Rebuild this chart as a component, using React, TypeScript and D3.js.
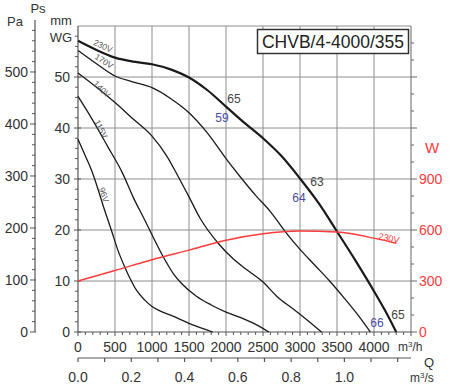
import React from 'react';
import * as d3 from 'd3';

// fan curves: [airflow m3/h, static pressure mmWG]
const CURVE_230V = [[0, 57.1], [250, 55.3], [500, 53.8], [750, 53.0], [1000, 52.5], [1250, 51.5], [1500, 49.9], [1750, 47.4], [2000, 44.2], [2250, 41.0], [2500, 38.0], [2750, 34.5], [3000, 30.1], [3250, 25.3], [3500, 19.7], [3750, 14.0], [4000, 8.0], [4150, 4.2], [4300, 0]];
const CURVE_170V = [[0, 55.2], [250, 52.6], [500, 50.2], [750, 49.0], [1000, 47.9], [1250, 45.8], [1500, 43.0], [1750, 39.0], [2000, 34.0], [2200, 30.3], [2400, 26.8], [2600, 23.6], [2800, 19.7], [3000, 16.2], [3200, 13.1], [3400, 10.0], [3600, 6.6], [3800, 3.0], [3950, 0]];
const CURVE_140V = [[0, 50.8], [250, 48.0], [500, 45.0], [750, 41.7], [1000, 38.4], [1200, 34.5], [1350, 30.6], [1500, 26.5], [1650, 22.3], [1900, 17.3], [2100, 14.3], [2300, 12.0], [2500, 9.8], [2700, 6.8], [2900, 4.6], [3100, 2.3], [3290, 0]];
const CURVE_115V = [[0, 46.2], [200, 41.5], [400, 36.4], [600, 31.2], [750, 26.3], [900, 22.0], [1050, 17.6], [1150, 14.8], [1300, 11.2], [1400, 9.5], [1600, 7.0], [1800, 5.3], [2000, 3.9], [2200, 2.8], [2400, 1.5], [2580, 0]];
const CURVE_96V = [[0, 37.8], [100, 34.5], [180, 31.8], [275, 27.8], [350, 24.3], [450, 20.0], [540, 16.0], [630, 12.8], [700, 10.6], [790, 8.2], [900, 6.3], [1000, 5.0], [1100, 4.2], [1300, 3.0], [1500, 1.7], [1700, 0.6], [1820, 0]];

// absorbed power at 230V: [airflow m3/h, W]
const POWER_230V = [[0, 300], [500, 362], [1000, 425], [1500, 482], [2000, 540], [2500, 578], [3000, 594], [3500, 588], [4000, 552], [4300, 522]];

const VOLTAGE_LABELS = [
  { text: '230V', q: 338, p: 56.1, rot: 25 },
  { text: '170V', q: 351, p: 53.1, rot: 33 },
  { text: '140V', q: 324, p: 47.6, rot: 45 },
  { text: '115V', q: 311, p: 39.8, rot: 63 },
  { text: '96V', q: 351, p: 26.9, rot: 72 },
];

// sound levels printed along the curves
const SOUND_LABELS = [
  { text: '65', q: 2108, p: 45.7, blue: false },
  { text: '59', q: 1946, p: 42.0, blue: true },
  { text: '63', q: 3230, p: 29.4, blue: false },
  { text: '64', q: 2986, p: 26.3, blue: true },
  { text: '66', q: 4041, p: 1.8, blue: true },
  { text: '65', q: 4324, p: 3.3, blue: false },
];

const FLOW_TICKS = [0, 500, 1000, 1500, 2000, 2500, 3000, 3500, 4000];
const FLOW_S_TICKS = [0.0, 0.2, 0.4, 0.6, 0.8, 1.0];
const MM_TICKS = [0, 10, 20, 30, 40, 50];
const PA_TICKS = [0, 100, 200, 300, 400, 500];
const W_TICKS = [0, 300, 600, 900];

const FONT = "Arial, 'Liberation Sans', Helvetica, sans-serif";
const RED = '#ff3b3b';
const GRID = '#8e8e8e';

export default function App() {
  const x = d3.scaleLinear().domain([0, 4500]).range([78, 411]);
  const y = d3.scaleLinear().domain([0, 60]).range([332, 26]);
  const yPa = (pa: number) => y(pa / 9.80665);
  const yW = d3.scaleLinear().domain([0, 1800]).range([332, 26]);
  const xS = (q: number) => x(q * 3600);

  const line = d3.line<number[]>().x(d => x(d[0])).y(d => y(d[1])).curve(d3.curveMonotoneX);
  const powerLine = d3.line<number[]>().x(d => x(d[0])).y(d => yW(d[1])).curve(d3.curveMonotoneX);

  const curves = [
    { data: CURVE_96V, w: 1.3 },
    { data: CURVE_115V, w: 1.3 },
    { data: CURVE_140V, w: 1.3 },
    { data: CURVE_170V, w: 1.3 },
    { data: CURVE_230V, w: 2.2 },
  ];

  const x0 = x(0), x1 = x(4500), yTop = y(60), yBot = y(0);
  const yS = 358;

  return (
    <svg width={450} height={385} style={{ position: 'absolute', left: 0, top: 0, background: '#fff' }} fontFamily={FONT}>
      {/* grid */}
      {d3.range(500, 4500, 500).map(v => (
        <line key={'gx' + v} x1={x(v)} x2={x(v)} y1={yTop} y2={yBot} stroke={GRID} strokeWidth={1} />
      ))}
      {d3.range(10, 60, 10).map(v => (
        <line key={'gy' + v} x1={x0} x2={x1} y1={y(v)} y2={y(v)} stroke={GRID} strokeWidth={1} />
      ))}
      <line x1={x0} x2={x1} y1={yTop} y2={yTop} stroke={GRID} strokeWidth={1} />
      <line x1={x1} x2={x1} y1={yTop} y2={yBot} stroke="#666" strokeWidth={1} />
      <line x1={x0} x2={x0} y1={yTop} y2={yBot} stroke="#555" strokeWidth={1.2} />
      <line x1={x0} x2={x1} y1={yBot} y2={yBot} stroke="#555" strokeWidth={1.2} />

      {/* mm axis ticks */}
      {d3.range(0, 60, 2).map(v => (
        <line key={'mt' + v} x1={v % 10 === 0 ? x0 - 4 : x0 - 3} x2={v % 10 === 0 ? x0 + 3 : x0} y1={y(v)} y2={y(v)} stroke="#555" />
      ))}
      {MM_TICKS.map(v => (
        <text key={'ml' + v} x={70} y={y(v)} dy="0.35em" textAnchor="end" fontSize={14} fill="#333">{v}</text>
      ))}

      {/* Pa axis */}
      <line x1={35} x2={35} y1={yPa(0)} y2={yPa(600)} stroke="#555" strokeWidth={1.2} />
      {d3.range(0, 600, 20).map(v => (
        <line key={'pt' + v} x1={v % 100 === 0 ? 30 : 32} x2={v % 100 === 0 ? 36 : 35} y1={yPa(v)} y2={yPa(v)} stroke="#555" />
      ))}
      {PA_TICKS.map(v => (
        <text key={'pl' + v} x={28} y={yPa(v)} dy="0.35em" textAnchor="end" fontSize={14} fill="#333">{v}</text>
      ))}

      {/* W axis */}
      {d3.range(0, 1800, 100).map(v => (
        <line key={'wt' + v} x1={x1} x2={v % 300 === 0 ? x1 + 6 : x1 + 3} y1={yW(v)} y2={yW(v)} stroke="#666" />
      ))}
      {W_TICKS.map(v => (
        <text key={'wl' + v} x={419} y={yW(v)} dy="0.35em" fontSize={14} fill={RED}>{v}</text>
      ))}
      <text x={425} y={148} dy="0.35em" fontSize={15} fill={RED}>W</text>

      {/* flow axis m3/h */}
      {d3.range(0, 4600, 100).map(v => (
        <line key={'ft' + v} x1={x(v)} x2={x(v)} y1={yBot} y2={yBot + (v % 500 === 0 ? 4 : 3)} stroke="#555" />
      ))}
      {FLOW_TICKS.map(v => (
        <text key={'fl' + v} x={x(v)} y={347} dy="0.35em" textAnchor="middle" fontSize={14} fill="#333">{v}</text>
      ))}
      <text x={398} y={347} dy="0.35em" fontSize={12} fill="#333">m<tspan dy="-4" fontSize={8}>3</tspan><tspan dy="4">/h</tspan></text>
      <text x={424} y={362} dy="0.35em" fontSize={13} fill="#333">Q</text>

      {/* flow axis m3/s */}
      <line x1={x0} x2={x1} y1={yS} y2={yS} stroke="#555" strokeWidth={1.2} />
      {d3.range(0, 1.25, 0.1).map(v => (
        <line key={'st' + v} x1={xS(v)} x2={xS(v)} y1={yS} y2={yS + 4} stroke="#555" strokeWidth={1.2} />
      ))}
      {FLOW_S_TICKS.map(v => (
        <text key={'sl' + v} x={xS(v)} y={377} dy="0.35em" textAnchor="middle" fontSize={14} fill="#333">{v.toFixed(1)}</text>
      ))}
      <text x={410} y={378} dy="0.35em" fontSize={12} fill="#333">m<tspan dy="-4" fontSize={8}>3</tspan><tspan dy="4">/s</tspan></text>

      {/* axis titles */}
      <text x={15} y={21} dy="0.35em" textAnchor="middle" fontSize={13} fill="#333">Pa</text>
      <text x={38} y={8} dy="0.35em" textAnchor="middle" fontSize={13} fill="#333">Ps</text>
      <text x={61} y={20} dy="0.35em" textAnchor="middle" fontSize={13} fill="#333">mm</text>
      <text x={61} y={37} dy="0.35em" textAnchor="middle" fontSize={13} fill="#333">WG</text>

      {/* fan curves */}
      {curves.map((c, i) => (
        <path key={'c' + i} d={line(c.data) || ''} fill="none" stroke="#1a1a1a" strokeWidth={c.w} />
      ))}
      <path d={powerLine(POWER_230V) || ''} fill="none" stroke={RED} strokeWidth={1.4} />

      {VOLTAGE_LABELS.map(l => (
        <text key={l.text} transform={`translate(${x(l.q)},${y(l.p)}) rotate(${l.rot})`} textAnchor="middle" dy="0.35em" fontSize={8.5} fill="#555">{l.text}</text>
      ))}
      <text transform={`translate(${x(4203)},${yW(553)}) rotate(12)`} textAnchor="middle" dy="0.35em" fontSize={9} fill={RED}>230V</text>

      {SOUND_LABELS.map((l, i) => (
        <text key={'s' + i} x={x(l.q)} y={y(l.p)} dy="0.35em" textAnchor="middle" fontSize={12} fill={l.blue ? '#4b4ba6' : '#444'}>{l.text}</text>
      ))}

      {/* model box */}
      <rect x={257.5} y={29.5} width={151} height={24} fill="#fff" stroke="#333" strokeWidth={1.5} />
      <text x={333} y={42} dy="0.35em" textAnchor="middle" fontSize={17.5} fill="#222">CHVB/4-4000/355</text>
    </svg>
  );
}
